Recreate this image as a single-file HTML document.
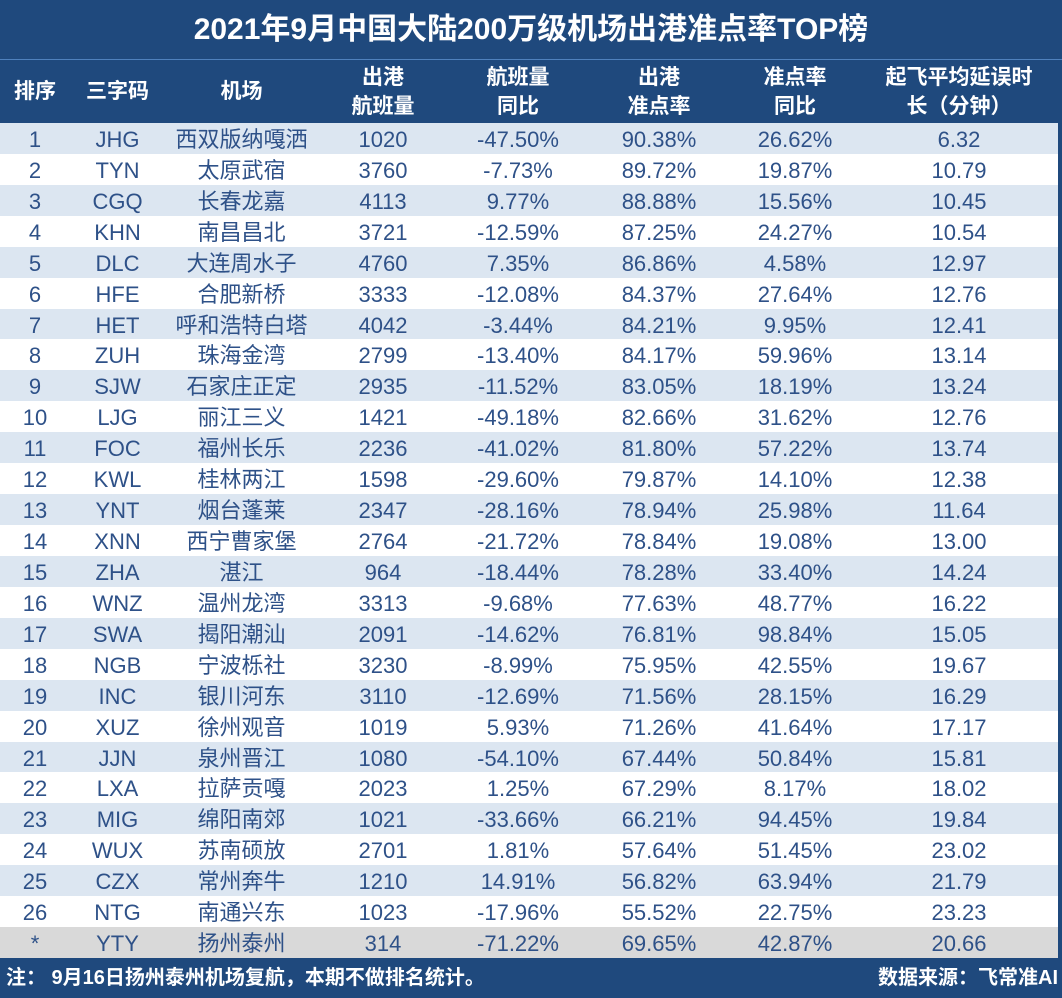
<!DOCTYPE html>
<html><head><meta charset="utf-8"><style>
body{margin:0;width:1062px;height:998px;background:#fff;overflow:hidden;font-family:"Liberation Sans","Noto Sans CJK SC",sans-serif}
#wrap{position:relative;width:1062px;height:998px;background:#1f497d}
.title{position:absolute;left:0;top:0;width:1062px;height:59px;line-height:60px;text-align:center;color:#fff;font-size:30px;font-weight:bold;border-bottom:1px solid #4f81bd}
.hd{position:absolute;top:60px;height:63px;color:#fff;font-size:21px;font-weight:bold;display:flex;align-items:center;justify-content:center;text-align:center;line-height:29px}
.row{position:absolute;left:0;width:1058px;height:31px}
.cell{position:absolute;top:0;height:31px;line-height:34px;text-align:center;color:#2e5188;font-size:22px}
.foot{position:absolute;top:961px;color:#fff;font-size:20px;font-weight:bold}
</style></head><body>
<div id="wrap">
<div class="title">2021年9月中国大陆200万级机场出港准点率TOP榜</div>
<div id="hdr"></div><div id="rows"></div>
<div class="foot" style="left:6px">注：  9月16日扬州泰州机场复航，本期不做排名统计。</div>
<div class="foot" style="right:4px">数据来源：飞常准AI</div>
</div>
<script>
const ranks=["1","2","3","4","5","6","7","8","9","10","11","12","13","14","15","16","17","18","19","20","21","22","23","24","25","26","*"];
const codes=["JHG","TYN","CGQ","KHN","DLC","HFE","HET","ZUH","SJW","LJG","FOC","KWL","YNT","XNN","ZHA","WNZ","SWA","NGB","INC","XUZ","JJN","LXA","MIG","WUX","CZX","NTG","YTY"];
const airports=["西双版纳嘎洒","太原武宿","长春龙嘉","南昌昌北","大连周水子","合肥新桥","呼和浩特白塔","珠海金湾","石家庄正定","丽江三义","福州长乐","桂林两江","烟台蓬莱","西宁曹家堡","湛江","温州龙湾","揭阳潮汕","宁波栎社","银川河东","徐州观音","泉州晋江","拉萨贡嘎","绵阳南郊","苏南硕放","常州奔牛","南通兴东","扬州泰州"];
const flights=["1020","3760","4113","3721","4760","3333","4042","2799","2935","1421","2236","1598","2347","2764","964","3313","2091","3230","3110","1019","1080","2023","1021","2701","1210","1023","314"];
const flightYoY=["-47.50%","-7.73%","9.77%","-12.59%","7.35%","-12.08%","-3.44%","-13.40%","-11.52%","-49.18%","-41.02%","-29.60%","-28.16%","-21.72%","-18.44%","-9.68%","-14.62%","-8.99%","-12.69%","5.93%","-54.10%","1.25%","-33.66%","1.81%","14.91%","-17.96%","-71.22%"];
const ontime=["90.38%","89.72%","88.88%","87.25%","86.86%","84.37%","84.21%","84.17%","83.05%","82.66%","81.80%","79.87%","78.94%","78.84%","78.28%","77.63%","76.81%","75.95%","71.56%","71.26%","67.44%","67.29%","66.21%","57.64%","56.82%","55.52%","69.65%"];
const ontimeYoY=["26.62%","19.87%","15.56%","24.27%","4.58%","27.64%","9.95%","59.96%","18.19%","31.62%","57.22%","14.10%","25.98%","19.08%","33.40%","48.77%","98.84%","42.55%","28.15%","41.64%","50.84%","8.17%","94.45%","51.45%","63.94%","22.75%","42.87%"];
const delay=["6.32","10.79","10.45","10.54","12.97","12.76","12.41","13.14","13.24","12.76","13.74","12.38","11.64","13.00","14.24","16.22","15.05","19.67","16.29","17.17","15.81","18.02","19.84","23.02","21.79","23.23","20.66"];
const headers=["排序","三字码","机场","出港<br>航班量","航班量<br>同比","出港<br>准点率","准点率<br>同比","起飞平均延误时<br>长（分钟）"];
const colL=[0,70,165,318,448,588,730,860], colW=[70,95,153,130,140,142,130,198];
const hdr=document.getElementById('hdr');
headers.forEach((h,i)=>{const d=document.createElement('div');d.className='hd';d.style.left=colL[i]+'px';d.style.width=colW[i]+'px';d.innerHTML=h;


hdr.appendChild(d);});
const rows=document.getElementById('rows');
const cols=[ranks,codes,airports,flights,flightYoY,ontime,ontimeYoY,delay];
const rowH=(958-123)/ranks.length;
ranks.forEach((r,k)=>{const row=document.createElement('div');row.className='row';


row.style.top=(123+k*rowH)+'px';row.style.height=rowH+'px';
row.style.background=k===ranks.length-1?'#d9d9d9':(k%2===0?'#dce6f1':'#ffffff');
cols.forEach((c,i)=>{const d=document.createElement('div');d.className='cell';d.style.left=colL[i]+'px';d.style.width=colW[i]+'px';d.textContent=c[k];


row.appendChild(d);});
rows.appendChild(row);});
</script>
</body></html>
